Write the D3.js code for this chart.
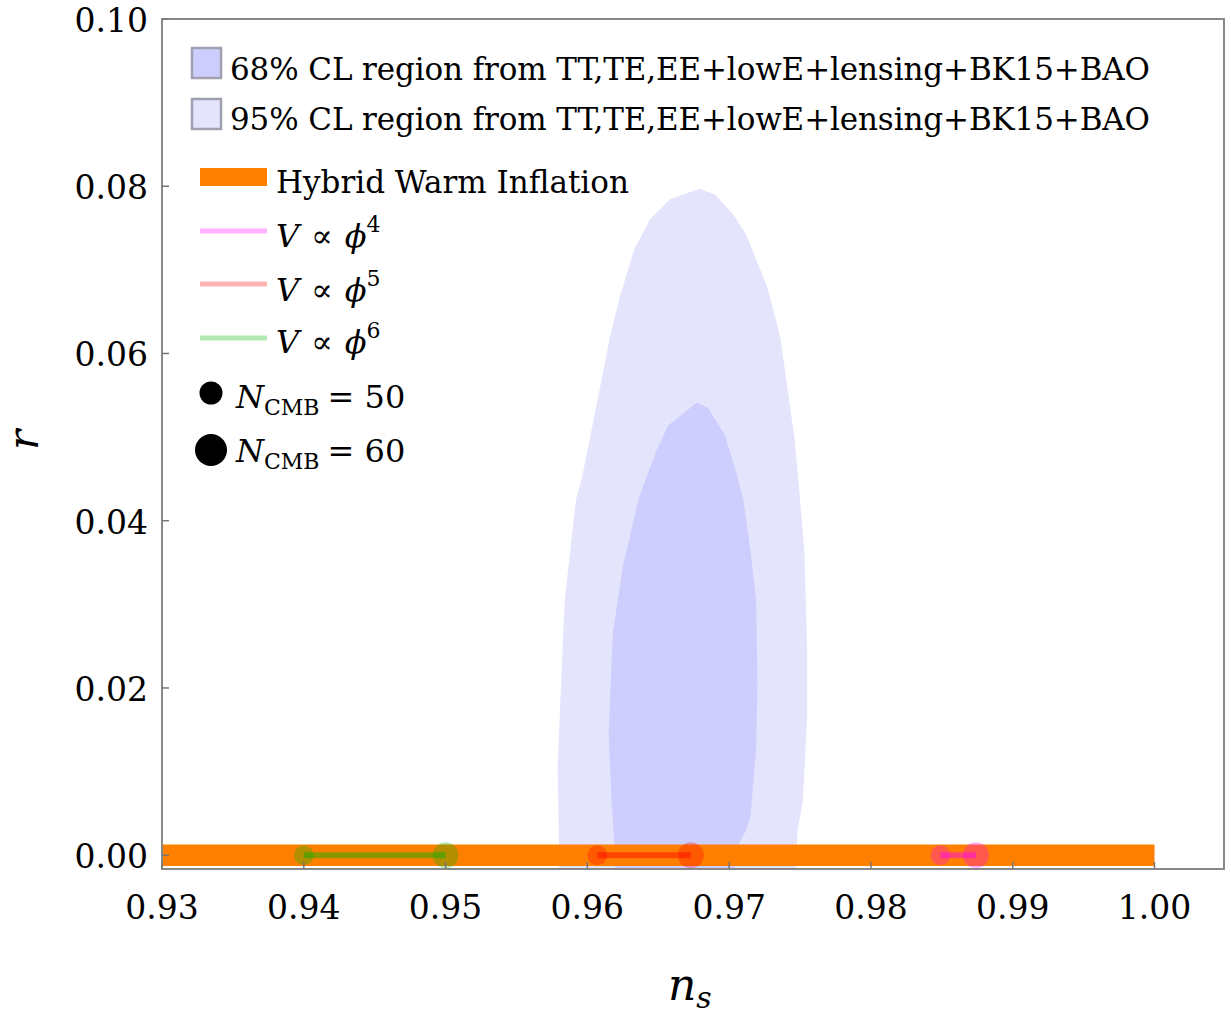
<!DOCTYPE html>
<html>
<head>
<meta charset="utf-8">
<script src="https://cdn.jsdelivr.net/npm/d3@7"></script>
<style>
  body { margin: 0; background: #fff; }
  svg text { fill: #000; }
  svg .it { font-style: italic; }
</style>
</head>
<body>
<svg id="chart" width="1231" height="1014" font-family="DejaVu Serif"></svg>
<script>
// axis ticks
const xTicks = [0.93, 0.94, 0.95, 0.96, 0.97, 0.98, 0.99, 1.00];
const yTicks = [0.00, 0.02, 0.04, 0.06, 0.08, 0.10];

// Planck contours (ns, r)
const contour95 = [
  [0.9580, -0.003], [0.9580, 0.0014], [0.9579, 0.0105], [0.9581, 0.0185],
  [0.9584, 0.0305], [0.9588, 0.0365], [0.9592, 0.0425], [0.9596, 0.0450],
  [0.9602, 0.0500], [0.9609, 0.0560], [0.9616, 0.0620], [0.9623, 0.0668],
  [0.9633, 0.0724], [0.9644, 0.0760], [0.9658, 0.0784], [0.9679, 0.0797],
  [0.9690, 0.0790], [0.9703, 0.0766], [0.9712, 0.0742], [0.9727, 0.0679],
  [0.9736, 0.0620], [0.9741, 0.0560], [0.9746, 0.0500], [0.9750, 0.0425],
  [0.9753, 0.0365], [0.9755, 0.0245], [0.9755, 0.0165], [0.9752, 0.0066],
  [0.9748, 0.0026], [0.9747, -0.003]
];
const contour68 = [
  [0.9620, -0.003], [0.9619, 0.0014], [0.9617, 0.0066], [0.9615, 0.0146],
  [0.9618, 0.0266], [0.9625, 0.0345], [0.9636, 0.0425], [0.9639, 0.0440],
  [0.9648, 0.0481], [0.9657, 0.0514], [0.9677, 0.0541], [0.9685, 0.0535],
  [0.9697, 0.0502], [0.9704, 0.0464], [0.9710, 0.0425], [0.9715, 0.0365],
  [0.9719, 0.0305], [0.9720, 0.0206], [0.9719, 0.0126], [0.9715, 0.0046],
  [0.9712, 0.0030], [0.9707, 0.0014], [0.9702, -0.003]
];

// hybrid warm inflation band
const bandNs = [0.93, 1.00];
const bandR = 0;

// monomial potentials, N_CMB = 50 and 60
const models = ["phi4", "phi5", "phi6"];
const modelColors = ["#ff00ff", "#ff0000", "#00b400"];
const nsN50 = [0.9849, 0.9607, 0.9400];
const nsN60 = [0.9874, 0.9673, 0.9500];
const rN50 = [0, 0, 0];
const rN60 = [0, 0, 0];

const svg = d3.select("#chart");

const x = d3.scaleLinear().domain([0.93, 1.0049]).range([162, 1224]);
const y = d3.scaleLinear().domain([-0.00165, 0.10]).range([869, 19]);

svg.append("clipPath").attr("id", "plotClip")
  .append("rect")
  .attr("x", x(0.93)).attr("y", y(0.10))
  .attr("width", x(1.0049) - x(0.93))
  .attr("height", y(-0.00165) - y(0.10));

const plot = svg.append("g").attr("clip-path", "url(#plotClip)");

const line = d3.line().x(d => x(d[0])).y(d => y(d[1]));

plot.append("path")
  .attr("d", line(contour95) + "Z")
  .attr("fill", "#e4e4fc");

plot.append("path")
  .attr("d", line(contour68) + "Z")
  .attr("fill", "#cecefe");

plot.append("line")
  .attr("x1", x(bandNs[0])).attr("x2", x(bandNs[1]))
  .attr("y1", y(bandR)).attr("y2", y(bandR))
  .attr("stroke", "#ff8000")
  .attr("stroke-width", 21.5);

const mod = plot.selectAll(".model")
  .data(models)
  .enter()
  .append("g")
  .attr("class", "model");

mod.append("line")
  .attr("x1", (d, i) => x(nsN50[i]))
  .attr("x2", (d, i) => x(nsN60[i]))
  .attr("y1", (d, i) => y(rN50[i]))
  .attr("y2", (d, i) => y(rN60[i]))
  .attr("stroke", (d, i) => modelColors[i])
  .attr("stroke-opacity", 0.45)
  .attr("stroke-width", 6);

mod.append("circle")
  .attr("cx", (d, i) => x(nsN50[i]))
  .attr("cy", (d, i) => y(rN50[i]))
  .attr("r", 10)
  .attr("fill", (d, i) => modelColors[i])
  .attr("fill-opacity", 0.3);

mod.append("circle")
  .attr("cx", (d, i) => x(nsN60[i]))
  .attr("cy", (d, i) => y(rN60[i]))
  .attr("r", 13)
  .attr("fill", (d, i) => modelColors[i])
  .attr("fill-opacity", 0.3);

// frame
svg.append("rect")
  .attr("x", x(0.93)).attr("y", y(0.10))
  .attr("width", x(1.0049) - x(0.93))
  .attr("height", y(-0.00165) - y(0.10))
  .attr("fill", "none")
  .attr("stroke", "#888")
  .attr("stroke-width", 2);

// ticks
svg.selectAll(".xtick")
  .data(xTicks)
  .enter()
  .append("line")
  .attr("class", "xtick")
  .attr("x1", d => x(d)).attr("x2", d => x(d))
  .attr("y1", y(-0.00165)).attr("y2", y(-0.00165) - 7)
  .attr("stroke", "#777")
  .attr("stroke-width", 1.5);

svg.selectAll(".xlab")
  .data(xTicks)
  .enter()
  .append("text")
  .attr("class", "xlab")
  .attr("x", d => x(d))
  .attr("y", 919)
  .attr("text-anchor", "middle")
  .attr("font-size", 33)
  .text(d => d3.format(".2f")(d));

svg.selectAll(".ytick")
  .data(yTicks)
  .enter()
  .append("line")
  .attr("class", "ytick")
  .attr("x1", x(0.93)).attr("x2", x(0.93) + 7)
  .attr("y1", d => y(d)).attr("y2", d => y(d))
  .attr("stroke", "#777")
  .attr("stroke-width", 1.5);

svg.selectAll(".ylab")
  .data(yTicks)
  .enter()
  .append("text")
  .attr("class", "ylab")
  .attr("x", 148)
  .attr("y", d => y(d) + 13)
  .attr("text-anchor", "end")
  .attr("font-size", 33)
  .text(d => d3.format(".2f")(d));

// axis labels
const xl = svg.append("text")
  .attr("x", 668).attr("y", 1000)
  .attr("font-size", 44);
xl.append("tspan").attr("class", "it").text("n");
xl.append("tspan").attr("class", "it").attr("font-size", 30).attr("dy", 8).text("s");

svg.append("text")
  .attr("class", "it")
  .attr("transform", "translate(38,440) rotate(-90)")
  .attr("text-anchor", "middle")
  .attr("font-size", 42)
  .text("r");

// legend
const leg = svg.append("g").attr("class", "legend");

const boxes = [
  {fill: "#cecefe", y0: 48, ty: 80, label: "68% CL region from TT,TE,EE+lowE+lensing+BK15+BAO"},
  {fill: "#e4e4fc", y0: 99, ty: 130, label: "95% CL region from TT,TE,EE+lowE+lensing+BK15+BAO"}
];
boxes.forEach(b => {
  leg.append("rect")
    .attr("x", 192).attr("y", b.y0)
    .attr("width", 29).attr("height", 30)
    .attr("fill", b.fill)
    .attr("stroke", "#a0a0b0")
    .attr("stroke-width", 2.5);
  leg.append("text")
    .attr("x", 230).attr("y", b.ty)
    .attr("font-size", 31)
    .attr("textLength", 920)
    .attr("lengthAdjust", "spacing")
    .text(b.label);
});

leg.append("rect")
  .attr("x", 200).attr("y", 168)
  .attr("width", 67).attr("height", 18)
  .attr("fill", "#ff8000");
leg.append("text")
  .attr("x", 276).attr("y", 193)
  .attr("font-size", 31)
  .text("Hybrid Warm Inflation");

const potLegend = [
  {ly: 231, ty: 247, pow: "4"},
  {ly: 284, ty: 301, pow: "5"},
  {ly: 338, ty: 353, pow: "6"}
];
potLegend.forEach((p, i) => {
  leg.append("line")
    .attr("x1", 200).attr("x2", 267)
    .attr("y1", p.ly).attr("y2", p.ly)
    .attr("stroke", modelColors[i])
    .attr("stroke-opacity", 0.3)
    .attr("stroke-width", 5);
  const t = leg.append("text")
    .attr("x", 276).attr("y", p.ty)
    .attr("font-size", 32);
  t.append("tspan").attr("class", "it").text("V");
  t.append("tspan").attr("dx", 12).text("\u221D");
  t.append("tspan").attr("class", "it").attr("dx", 12).text("\u03D5");
  t.append("tspan").attr("font-size", 22).attr("dy", -15).text(p.pow);
});

const nLegend = [
  {cy: 393, r: 11.5, ty: 408, n: "50"},
  {cy: 450, r: 16, ty: 462, n: "60"}
];
nLegend.forEach(d => {
  leg.append("circle")
    .attr("cx", 211).attr("cy", d.cy)
    .attr("r", d.r)
    .attr("fill", "#000");
  const t = leg.append("text")
    .attr("x", 236).attr("y", d.ty)
    .attr("font-size", 32);
  t.append("tspan").attr("class", "it").text("N");
  t.append("tspan").attr("font-size", 22).attr("dy", 7).text("CMB");
  t.append("tspan").attr("dy", -7).attr("dx", 8).text("= " + d.n);
});
</script>
</body>
</html>
